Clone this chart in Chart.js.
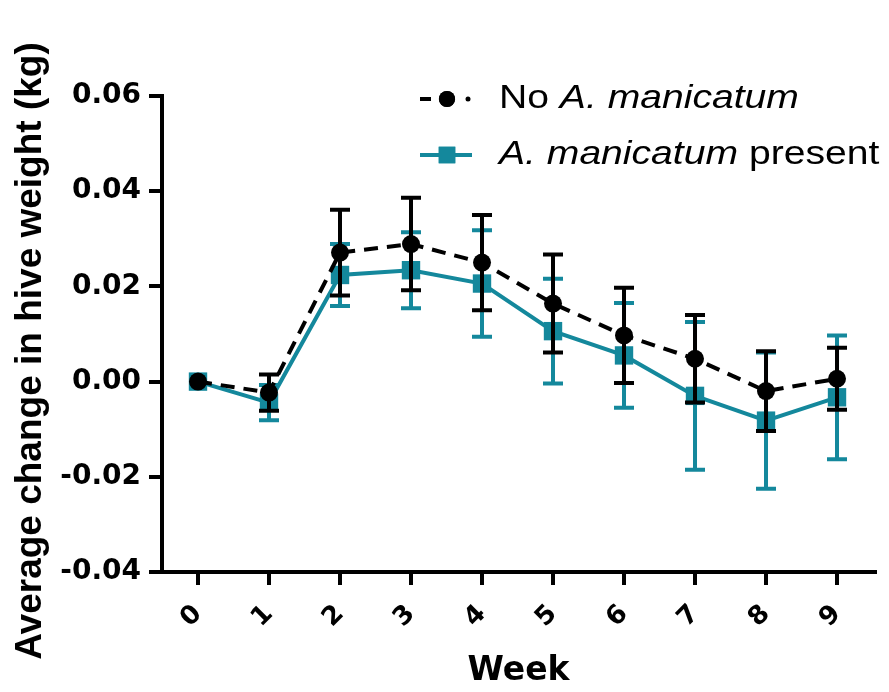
<!DOCTYPE html>
<html>
<head>
<meta charset="utf-8">
<title>Average change in hive weight</title>
<script src="https://cdn.jsdelivr.net/npm/chart.js@4.4.1/dist/chart.umd.min.js"></script>
<style>
  html, body { margin: 0; padding: 0; background: #ffffff; }
  #wrap { width: 889px; height: 692px; }
</style>
</head>
<body>
<div id="wrap"><canvas id="chart" width="889" height="692"></canvas></div>
<script>
// Weeks since the start of monitoring
const weeks = [0, 1, 2, 3, 4, 5, 6, 7, 8, 9];

// Hives without A. manicatum: mean change (kg) and error
const absentMean = [0.0000, -0.0023, 0.0271, 0.0289, 0.0250, 0.0164, 0.0097, 0.0048, -0.0020, 0.0006];
const absentErr  = [0.0000, 0.0038, 0.0090, 0.0097, 0.0100, 0.0103, 0.0100, 0.0092, 0.0084, 0.0065];

// Hives with A. manicatum present: mean change (kg) and error
const presentMean = [0.0000, -0.0044, 0.0224, 0.0234, 0.0206, 0.0106, 0.0055, -0.0030, -0.0082, -0.0033];
const presentErr  = [0.0000, 0.0037, 0.0065, 0.0080, 0.0112, 0.0110, 0.0110, 0.0155, 0.0143, 0.0130];

// Y axis tick values
const yTicks = [-0.04, -0.02, 0.00, 0.02, 0.04, 0.06];

const BLACK = '#000000';
const TEAL = '#14889c';

const toPoints = (means) => weeks.map((w, i) => ({ x: w, y: means[i] }));

// Vertical error bars with caps, drawn underneath each dataset's own line and markers
const errorBars = {
  id: 'errorBars',
  beforeDatasetDraw(chart, args) {
    const ds = chart.data.datasets[args.index];
    if (!ds.errors) return;
    const ys = chart.scales.y;
    const ctx = chart.ctx;
    const half = 10;
    ctx.save();
    ctx.strokeStyle = ds.borderColor;
    ctx.lineWidth = 4;
    ctx.lineCap = 'butt';
    args.meta.data.forEach((pt, i) => {
      const e = ds.errors[i];
      if (!e) return;
      const v = ds.data[i].y;
      const yTop = ys.getPixelForValue(v + e);
      const yBot = ys.getPixelForValue(v - e);
      const x = pt.x;
      ctx.beginPath();
      ctx.moveTo(x, yTop);
      ctx.lineTo(x, yBot);
      ctx.moveTo(x - half, yTop);
      ctx.lineTo(x + half, yTop);
      ctx.moveTo(x - half, yBot);
      ctx.lineTo(x + half, yBot);
      ctx.stroke();
    });
    ctx.restore();
  }
};

// Rotated y-axis title
const yTitle = {
  id: 'yTitle',
  afterDraw(chart) {
    const ctx = chart.ctx;
    ctx.save();
    ctx.translate(31, 351);
    ctx.rotate(-Math.PI / 2);
    ctx.font = 'bold 37px "Liberation Sans", Arial, sans-serif';
    ctx.fillStyle = BLACK;
    ctx.textAlign = 'center';
    ctx.textBaseline = 'middle';
    ctx.fillText('Average change in hive weight (kg)', 0, 0);
    ctx.restore();
  }
};

// Legend with the species name in italics
const legendRows = [
  { dataset: 0, runs: [{ t: 'No ', it: false }, { t: 'A. manicatum', it: true }] },
  { dataset: 1, runs: [{ t: 'A. manicatum', it: true }, { t: ' present', it: false }] }
];

const speciesLegend = {
  id: 'speciesLegend',
  afterDraw(chart) {
    const ctx = chart.ctx;
    const rowY = [99, 155];
    const symX0 = 420, symX1 = 472, symMid = 447, textX = 499;
    const stretch = 1.15;
    legendRows.forEach((row, r) => {
      const ds = chart.data.datasets[row.dataset];
      const y = rowY[r];
      ctx.save();
      ctx.strokeStyle = ds.borderColor;
      ctx.fillStyle = ds.pointBackgroundColor;
      ctx.lineWidth = ds.borderWidth;
      if (ds.borderDash && ds.borderDash.length) {
        ctx.beginPath();
        ctx.moveTo(symX0, y); ctx.lineTo(symX0 + 11, y);
        ctx.stroke();
        ctx.beginPath();
        ctx.arc(symX1 - 4, y, 2.5, 0, Math.PI * 2);
        ctx.fill();
      } else {
        ctx.beginPath();
        ctx.moveTo(symX0, y); ctx.lineTo(symX1, y);
        ctx.stroke();
      }
      Chart.helpers.drawPoint(ctx, {
        pointStyle: ds.pointStyle,
        radius: ds.pointRadius * 0.9,
        borderWidth: 0
      }, symMid, y);
      ctx.fill();
      ctx.restore();

      ctx.save();
      ctx.translate(textX, y);
      ctx.scale(stretch, 1);
      ctx.fillStyle = BLACK;
      ctx.textBaseline = 'middle';
      ctx.textAlign = 'left';
      let x = 0;
      row.runs.forEach(run => {
        ctx.font = (run.it ? 'italic ' : '') + '34px "Liberation Sans", Arial, sans-serif';
        ctx.fillText(run.t, x, 0);
        x += ctx.measureText(run.t).width;
      });
      ctx.restore();
    });
  }
};

const axisLine = { display: true, color: BLACK, width: 4 };
const tickGrid = {
  display: true,
  drawOnChartArea: false,
  drawTicks: true,
  tickLength: 13,
  tickWidth: 4,
  tickColor: BLACK,
  lineWidth: 4,
  color: BLACK
};

new Chart(document.getElementById('chart'), {
  type: 'line',
  data: {
    datasets: [
      {
        label: 'No A. manicatum',
        data: toPoints(absentMean),
        errors: absentErr,
        borderColor: BLACK,
        backgroundColor: BLACK,
        borderWidth: 4,
        borderDash: [14, 9],
        pointStyle: 'circle',
        pointRadius: 9,
        pointBackgroundColor: BLACK,
        pointBorderColor: BLACK,
        pointBorderWidth: 0,
        tension: 0,
        fill: false,
        clip: false
      },
      {
        label: 'A. manicatum present',
        data: toPoints(presentMean),
        errors: presentErr,
        borderColor: TEAL,
        backgroundColor: TEAL,
        borderWidth: 4,
        borderDash: [],
        pointStyle: 'rect',
        pointRadius: 13,
        pointBackgroundColor: TEAL,
        pointBorderColor: TEAL,
        pointBorderWidth: 0,
        tension: 0,
        fill: false,
        clip: false
      }
    ]
  },
  options: {
    responsive: false,
    animation: false,
    events: [],
    layout: { padding: { top: 96, right: 14, bottom: 0, left: 0 } },
    plugins: {
      legend: { display: false },
      tooltip: { enabled: false },
      title: { display: false }
    },
    scales: {
      x: {
        type: 'linear',
        min: -0.507,
        max: 9.535,
        border: axisLine,
        grid: tickGrid,
        afterBuildTicks(scale) { scale.ticks = weeks.map(w => ({ value: w })); },
        afterFit(scale) { scale.height = 120; },
        ticks: {
          color: BLACK,
          autoSkip: false,
          minRotation: 45,
          maxRotation: 45,
          padding: 14,
          font: { family: '"DejaVu Sans", sans-serif', weight: 'bold', size: 26 },
          callback: (v) => String(v)
        },
        title: {
          display: true,
          text: 'Week',
          color: BLACK,
          padding: { top: 0, bottom: 1 },
          font: { family: '"DejaVu Sans", sans-serif', weight: 'bold', size: 33 }
        }
      },
      y: {
        type: 'linear',
        min: -0.04,
        max: 0.06,
        border: axisLine,
        grid: tickGrid,
        afterBuildTicks(scale) { scale.ticks = yTicks.map(v => ({ value: v })); },
        afterFit(scale) { scale.width = 162; },
        ticks: {
          color: BLACK,
          padding: 8,
          font: { family: '"DejaVu Sans", sans-serif', weight: 'bold', size: 28 },
          callback: (v) => Number(v).toFixed(2)
        }
      }
    }
  },
  plugins: [errorBars, yTitle, speciesLegend]
});
</script>
</body>
</html>
